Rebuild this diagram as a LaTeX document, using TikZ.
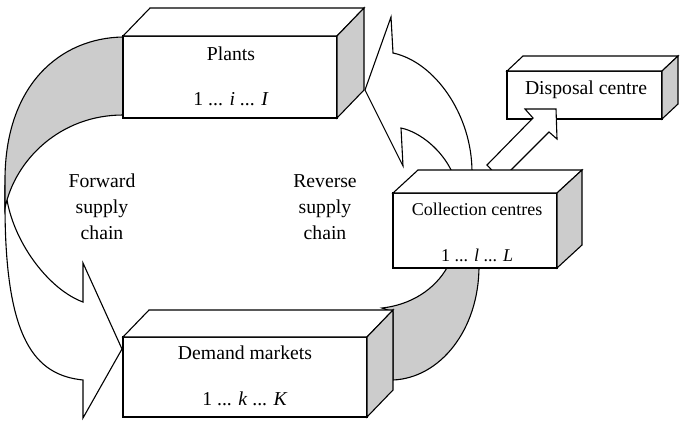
\documentclass[tikz,border=0pt]{standalone}
\usepackage{fontspec}
\setmainfont{Liberation Serif}
\usetikzlibrary{calc}
\newcommand\mycuboid[3]{%
  \draw[fill=white] (#1.north west) -- ++(#2,-#3) -- ($(#1.north east)+(#2,-#3)$) -- (#1.north east) -- cycle;
  \draw[fill=black!20] (#1.north east) -- ++(#2,-#3) -- ($(#1.south east)+(#2,-#3)$) -- (#1.south east) -- cycle;}
\begin{document}
\begin{tikzpicture}[x=1pt,y=-1pt, line width=1.1pt, line join=miter,
  box/.style={draw, fill=white, inner sep=0pt, outer sep=0pt},
  lbl/.style={anchor=base, inner sep=0pt, font=\fontsize{19.7}{24}\selectfont},
  lbls/.style={anchor=base, inner sep=0pt, font=\fontsize{18}{22}\selectfont},
  band/.style={draw, fill=black!20},
  blockarrow/.style={draw, fill=white}]
\useasboundingbox (0,0) rectangle (682,424);

% forward supply chain arrow (white front part)
\draw[blockarrow] (5,185) -- (5,205) .. controls (5,340) and (35,375) .. (83,380)
  -- (83,418) -- (122,349) -- (83,263) -- (83,302)
  .. controls (50,290) and (15,245) .. (7,200) -- cycle;
% forward arrow gray (back) part
\draw[band] (123,37) .. controls (60,38) and (5,85) .. (5,180) -- (5,208)
  .. controls (15,160) and (60,115) .. (123,115) -- cycle;

% reverse supply chain arrow
\draw[blockarrow] (452,172) .. controls (442,150) and (420,132) .. (401,128)
  -- (403,166) -- (365,90) -- (391,17) -- (393,53)
  .. controls (435,62) and (472,115) .. (472,172) -- cycle;

% gray band collection -> demand
\draw[band] (448,266) .. controls (435,290) and (410,305) .. (382,308) -- (393,312)
  -- (393,380) .. controls (440,378) and (479,330) .. (479,266) -- cycle;

% boxes
\node[box, minimum width=214pt, minimum height=82pt] (plants) at (230,77) {};
\mycuboid{plants}{27}{28}
\node[box, minimum width=244pt, minimum height=80pt] (demand) at (245,377) {};
\mycuboid{demand}{26}{27}
\node[box, minimum width=155pt, minimum height=48pt] (disposal) at (584.5,95) {};
\mycuboid{disposal}{16}{15}

% arrow to disposal centre
\draw[blockarrow] (501,180) -- (487,165) -- (533,118) -- (525,109) -- (556,109)
  -- (557,139) -- (549,132) -- cycle;

\node[box, minimum width=164pt, minimum height=75pt] (collect) at (475,230.5) {};
\mycuboid{collect}{25}{23}

% labels
\node[lbl] (plantsA) at (231,60) {Plants};
\node[lbl] (plantsB) at (231,105) {1 ... \textit{i} ... \textit{I}};
\node[lbl] (demA) at (245,359) {Demand markets};
\node[lbl] (demB) at (245,405) {1 ... \textit{k} ... \textit{K}};
\node[lbls] (colA) at (477,215) {Collection centres};
\node[lbls] (colB) at (477,261) {1 ... \textit{l} ... \textit{L}};
\node[lbl] (disA) at (586,94) {Disposal centre};
\node[lbl] (fwdA) at (102,187) {Forward};
\node[lbl] (fwdB) at (102,213) {supply};
\node[lbl] (fwdC) at (102,239) {chain};
\node[lbl] (revA) at (325,187) {Reverse};
\node[lbl] (revB) at (325,213) {supply};
\node[lbl] (revC) at (325,239) {chain};
\end{tikzpicture}
\end{document}
